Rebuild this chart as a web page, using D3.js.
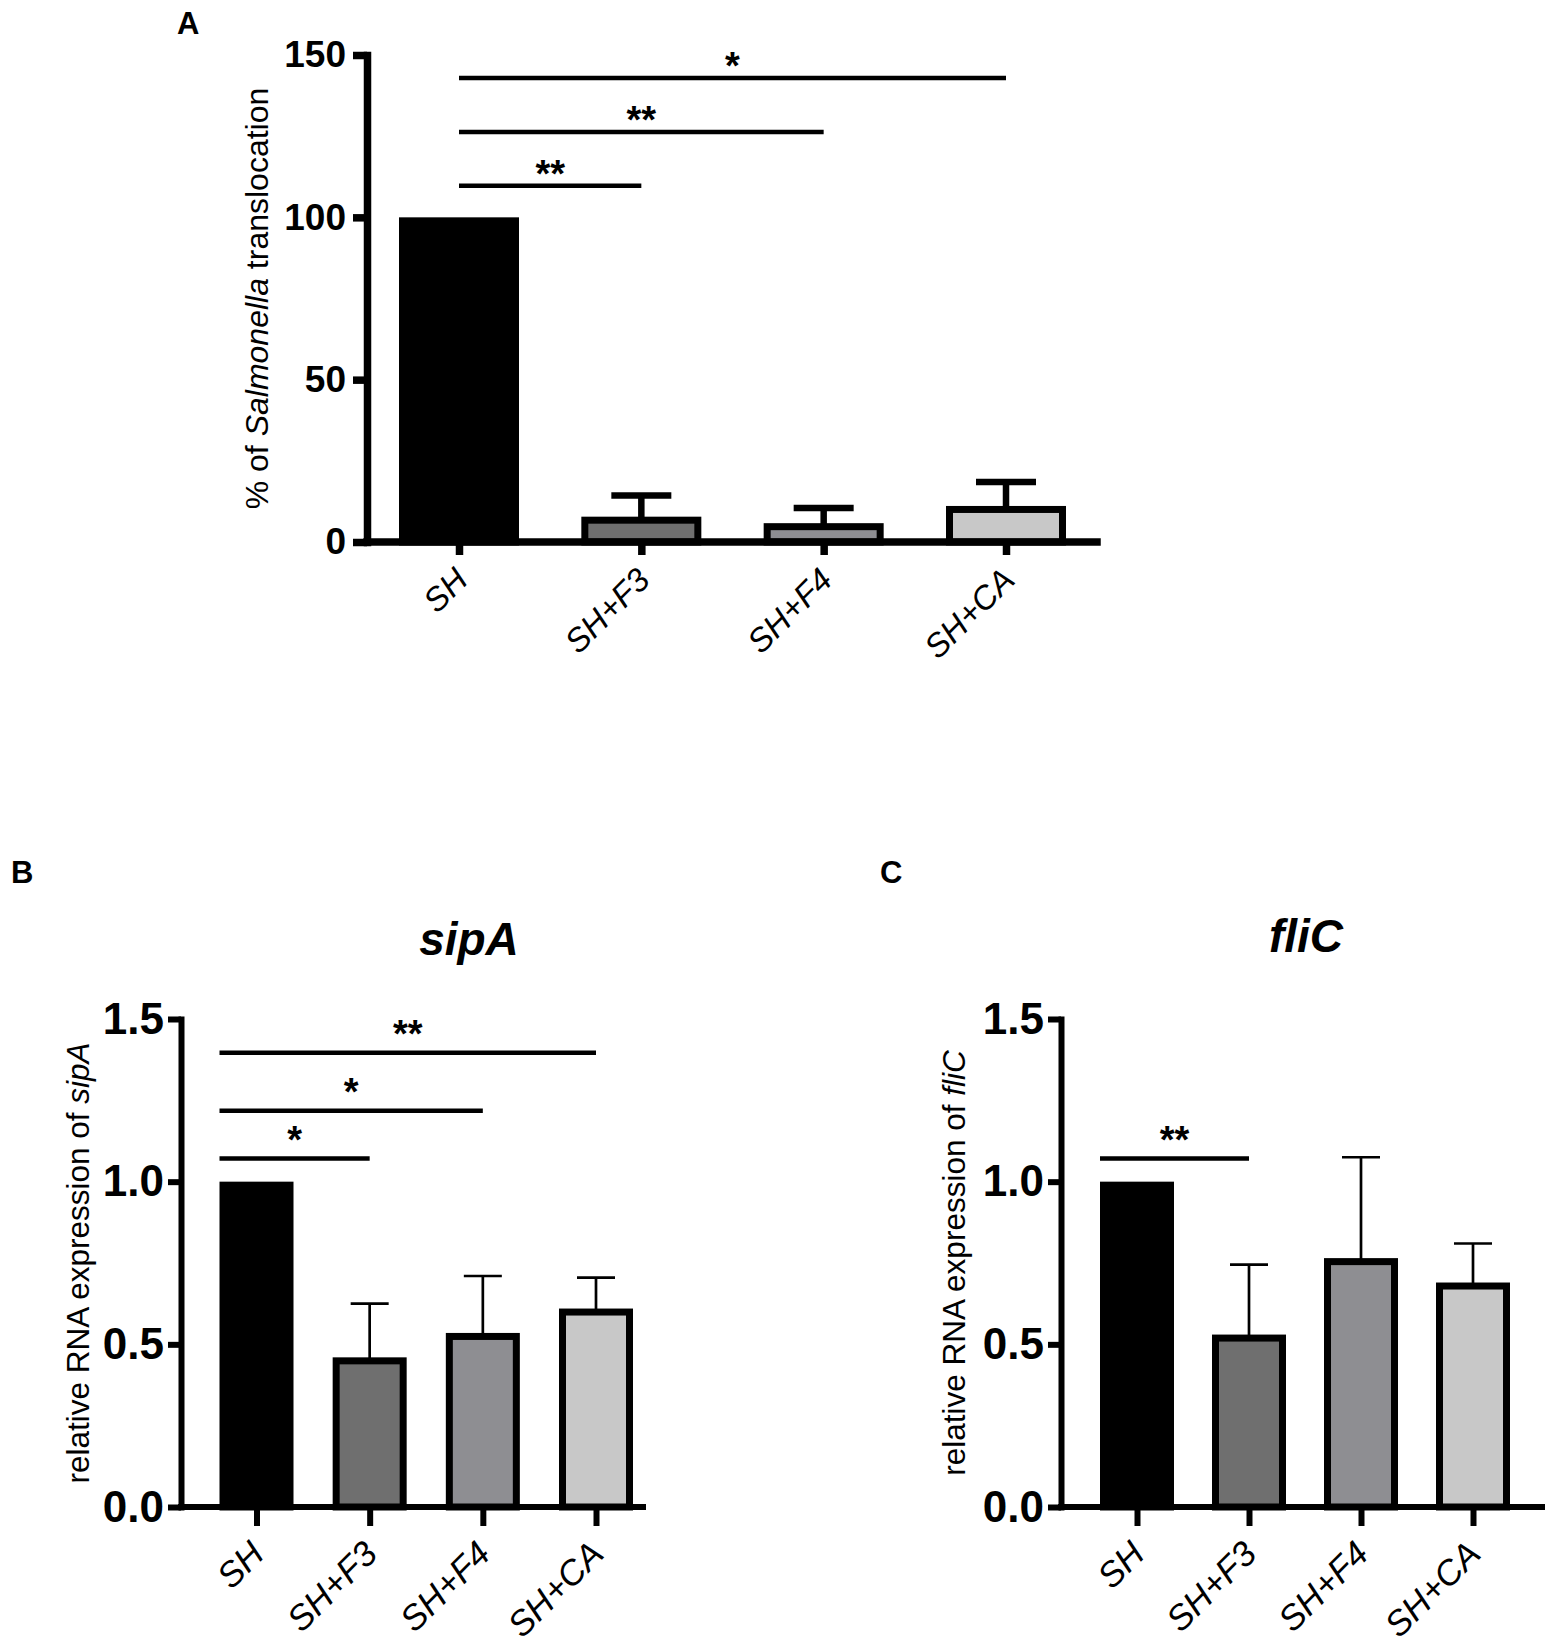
<!DOCTYPE html>
<html>
<head>
<meta charset="utf-8">
<script src="https://cdn.jsdelivr.net/npm/d3@7"></script>
<style>
    body { margin: 0; background: #fff; }
    svg { display: block; font-family: "Liberation Sans", Arial, sans-serif; }
</style>
</head>
<body>
<div id="chart"></div>
<script>
// groups shared by the three panels
const categories = ["SH", "SH+F3", "SH+F4", "SH+CA"];
const barColors = ["#000000", "#6f6f6f", "#8e8e92", "#c8c8c8"];

// panel A: % of Salmonella translocation (mean, upper error)
const translocationMean = [100, 7.8, 5.8, 11.1];
const translocationErr = [0, 6.5, 4.7, 7.4];
const translocationTicks = [0, 50, 100, 150];
const translocationSig = [
    {from: "SH", to: "SH+F3", level: 109.7, label: "**"},
    {from: "SH", to: "SH+F4", level: 126.3, label: "**"},
    {from: "SH", to: "SH+CA", level: 142.9, label: "*"}
];

// panel B: relative RNA expression of sipA
const sipAMean = [1.0, 0.46, 0.535, 0.61];
const sipAErr = [0, 0.165, 0.175, 0.095];
const sipASig = [
    {from: "SH", to: "SH+F3", level: 1.071, label: "*"},
    {from: "SH", to: "SH+F4", level: 1.218, label: "*"},
    {from: "SH", to: "SH+CA", level: 1.396, label: "**"}
];

// panel C: relative RNA expression of fliC
const fliCMean = [1.0, 0.53, 0.765, 0.69];
const fliCErr = [0, 0.215, 0.31, 0.12];
const fliCSig = [
    {from: "SH", to: "SH+F3", level: 1.071, label: "**"}
];

const expressionTicks = [0, 0.5, 1.0, 1.5];

const svg = d3.select("#chart").append("svg")
    .attr("width", 1562)
    .attr("height", 1650);

/**
 * Draws one bar panel with its axes, error bars and significance lines.
 */
function drawPanel(p) {
    const g = svg.append("g");

    // bar centres; the axis line itself runs from p.left to p.right
    const x = d3.scalePoint()
        .domain(categories)
        .range([p.firstCenter, p.lastCenter]);

    const y = d3.scaleLinear()
        .domain([0, p.max])
        .range([p.bottom, p.top]);

    const rows = categories.map((c, i) => ({cat: c, mean: p.mean[i], err: p.err[i], color: barColors[i]}));

    // bars, border drawn inside the outline
    g.selectAll(".bar")
        .data(rows)
        .enter().append("rect")
        .attr("class", "bar")
        .attr("x", d => x(d.cat) - p.barWidth / 2 + p.border / 2)
        .attr("width", p.barWidth - p.border)
        .attr("y", d => y(d.mean) + p.border / 2)
        .attr("height", d => y(0) - y(d.mean) - p.border / 2)
        .style("fill", d => d.color)
        .style("stroke", "#000")
        .style("stroke-width", p.border);

    // error bars (upper only)
    const errRows = rows.filter(d => d.err > 0);
    g.selectAll(".err-stem")
        .data(errRows)
        .enter().append("line")
        .attr("x1", d => x(d.cat))
        .attr("x2", d => x(d.cat))
        .attr("y1", d => y(d.mean) + p.border / 2)
        .attr("y2", d => y(d.mean + d.err))
        .style("stroke", "#000")
        .style("stroke-width", p.errWidth);

    g.selectAll(".err-cap")
        .data(errRows)
        .enter().append("line")
        .attr("x1", d => x(d.cat) - p.capWidth / 2)
        .attr("x2", d => x(d.cat) + p.capWidth / 2)
        .attr("y1", d => y(d.mean + d.err))
        .attr("y2", d => y(d.mean + d.err))
        .style("stroke", "#000")
        .style("stroke-width", p.errWidth);

    // y axis
    const yAxis = g.append("g")
        .attr("transform", `translate(${p.left},0)`)
        .call(d3.axisLeft(y)
            .tickValues(p.ticks)
            .tickFormat(p.tickFormat)
            .tickSize(p.tickLen)
            .tickSizeOuter(0)
            .tickPadding(p.tickPad));

    // x axis
    const xAxis = g.append("g")
        .attr("transform", `translate(0,${p.bottom})`)
        .call(d3.axisBottom(x)
            .tickSize(p.xTickLen)
            .tickSizeOuter(0));

    // stretch the baseline over the whole plot width
    xAxis.select(".domain").attr("d", `M${p.left},0H${p.right}`);

    [yAxis, xAxis].forEach(ax => {
        ax.select(".domain")
            .style("stroke", "#000")
            .style("stroke-width", p.axisWidth)
            .style("stroke-linecap", "square");
        ax.selectAll(".tick line")
            .style("stroke", "#000")
            .style("stroke-width", p.axisWidth);
    });

    yAxis.selectAll(".tick text")
        .style("font-size", p.tickFont + "px")
        .style("font-weight", "bold")
        .style("font-family", "'Liberation Sans', Arial, sans-serif")
        .attr("fill", "#000");

    xAxis.selectAll(".tick text")
        .attr("x", p.labelDx)
        .attr("y", p.labelDy)
        .attr("dy", 0)
        .attr("transform", `rotate(-45,${p.labelDx},${p.labelDy})`)
        .style("text-anchor", "end")
        .style("font-size", p.labelFont + "px")
        .style("font-style", "italic")
        .style("font-family", "'Liberation Sans', Arial, sans-serif")
        .attr("fill", "#000");

    // significance lines
    p.sig.forEach(s => {
        const x1 = p.sigFromEdge ? x(s.from) - p.barWidth / 2 : x(s.from);
        const x2 = x(s.to);
        const ly = y(s.level);
        g.append("line")
            .attr("x1", x1)
            .attr("x2", x2)
            .attr("y1", ly)
            .attr("y2", ly)
            .style("stroke", "#000")
            .style("stroke-width", p.sigWidth);
        g.append("text")
            .attr("x", (x1 + x2) / 2)
            .attr("y", ly - p.starGap + 0.58 * p.starFont)
            .attr("text-anchor", "middle")
            .style("font-size", p.starFont + "px")
            .style("font-weight", "bold")
            .text(s.label);
    });

    // y axis title
    const yt = g.append("text")
        .attr("transform", `translate(${p.yTitleX},${(p.top + p.bottom) / 2}) rotate(-90)`)
        .attr("text-anchor", "middle")
        .style("font-size", p.yTitleFont + "px");
    p.yTitle.forEach(part => {
        yt.append("tspan")
            .style("font-style", part.italic ? "italic" : "normal")
            .text(part.t);
    });

    // panel title
    if (p.title) {
        g.append("text")
            .attr("x", p.titleX)
            .attr("y", p.titleY)
            .attr("text-anchor", "middle")
            .style("font-size", "46px")
            .style("font-weight", "bold")
            .style("font-style", "italic")
            .text(p.title);
    }

    // panel letter
    g.append("text")
        .attr("x", p.letterX)
        .attr("y", p.letterY)
        .style("font-size", "31px")
        .style("font-weight", "bold")
        .text(p.letter);
}

drawPanel({
    letter: "A", letterX: 177, letterY: 34,
    mean: translocationMean, err: translocationErr, sig: translocationSig,
    max: 150, ticks: translocationTicks, tickFormat: d3.format("d"),
    left: 367, right: 1097, firstCenter: 459, lastCenter: 1006, top: 55, bottom: 542,
    barWidth: 120, border: 7, errWidth: 6.5, capWidth: 60,
    axisWidth: 7.5, tickLen: 14, tickPad: 7, xTickLen: 13, tickFont: 37,
    labelDx: 10, labelDy: 40, labelFont: 33,
    sigWidth: 4.5, sigFromEdge: false, starFont: 38, starGap: 21,
    yTitle: [{t: "% of "}, {t: "Salmonella", italic: true}, {t: " translocation"}],
    yTitleX: 268, yTitleFont: 32
});

drawPanel({
    letter: "B", letterX: 11, letterY: 883,
    title: "sipA", titleX: 469, titleY: 955,
    mean: sipAMean, err: sipAErr, sig: sipASig,
    max: 1.5, ticks: expressionTicks, tickFormat: d3.format(".1f"),
    left: 181, right: 643, firstCenter: 256.5, lastCenter: 596, top: 1019, bottom: 1507,
    barWidth: 74, border: 7, errWidth: 2.7, capWidth: 38,
    axisWidth: 6, tickLen: 13, tickPad: 4, xTickLen: 19, tickFont: 44,
    labelDx: 9, labelDy: 49, labelFont: 35,
    sigWidth: 4.5, sigFromEdge: true, starFont: 38, starGap: 28,
    yTitle: [{t: "relative RNA expression of "}, {t: "sipA", italic: true}],
    yTitleX: 89, yTitleFont: 31.5
});

drawPanel({
    letter: "C", letterX: 880, letterY: 883,
    title: "fliC", titleX: 1306, titleY: 952,
    mean: fliCMean, err: fliCErr, sig: fliCSig,
    max: 1.5, ticks: expressionTicks, tickFormat: d3.format(".1f"),
    left: 1061, right: 1542, firstCenter: 1137, lastCenter: 1473, top: 1019, bottom: 1507,
    barWidth: 74, border: 7, errWidth: 2.7, capWidth: 38,
    axisWidth: 6, tickLen: 13, tickPad: 4, xTickLen: 19, tickFont: 44,
    labelDx: 9, labelDy: 49, labelFont: 35,
    sigWidth: 4.5, sigFromEdge: true, starFont: 38, starGap: 28,
    yTitle: [{t: "relative RNA expression of "}, {t: "fliC", italic: true}],
    yTitleX: 965, yTitleFont: 31.5
});
</script>
</body>
</html>
